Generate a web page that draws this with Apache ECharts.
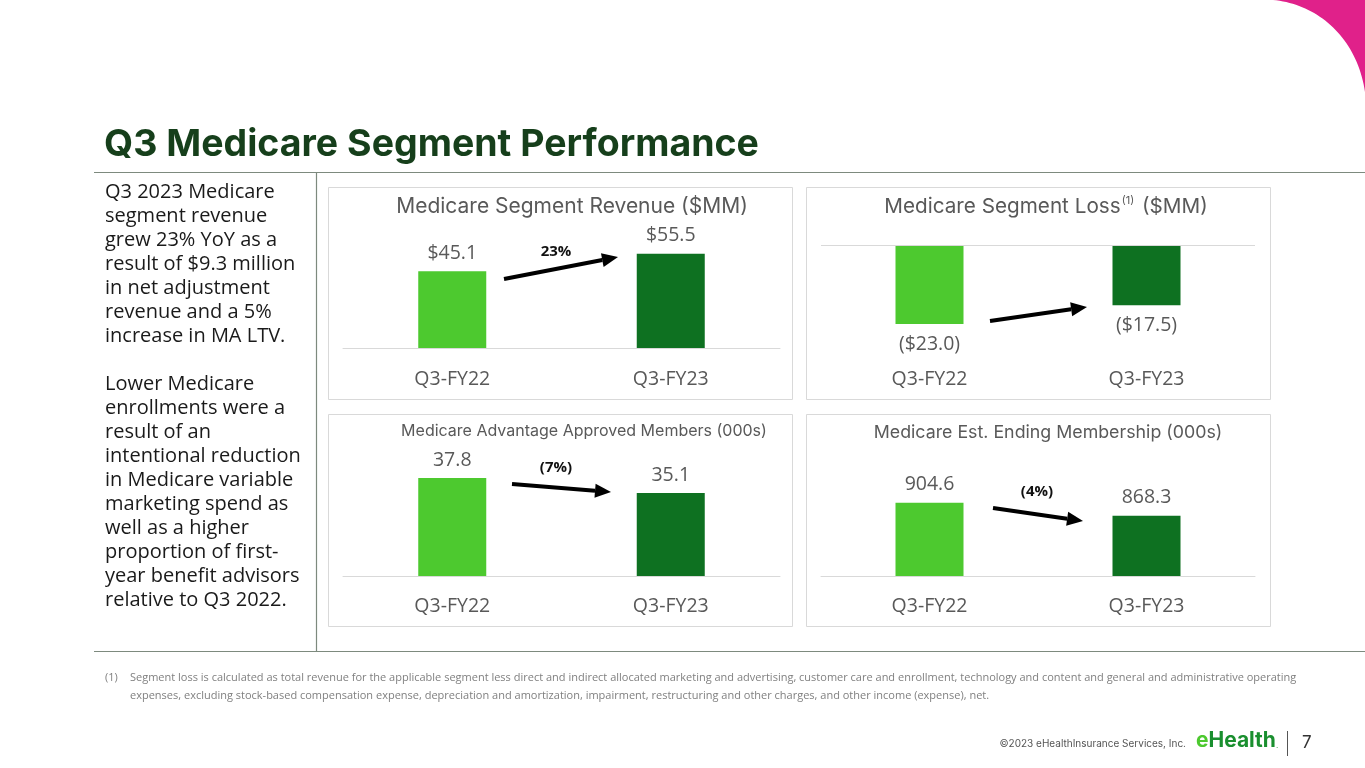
<!DOCTYPE html>
<html>
<head>
<meta charset="utf-8">
<script src="https://cdn.jsdelivr.net/npm/echarts@6/dist/echarts.min.js"></script>
<style>
html,body{margin:0;padding:0;background:#fff;}
#c{width:1365px;height:768px;}
</style>
</head>
<body>
<div id="c"></div>
<script>
// ---- data ----
const categories = ['Q3-FY22', 'Q3-FY23'];
const revenue = [45.1, 55.5];
const segmentLoss = [-23.0, -17.5];
const maApprovedMembers = [37.8, 35.1];
const endingMembership = [904.6, 868.3];
const changeLabels = ['23%', '', '(7%)', '(4%)'];
const panelTitles = [
  'Medicare Segment Revenue ($MM)',
  'Medicare Segment Loss',
  'Medicare Advantage Approved Members (000s)',
  'Medicare Est. Ending Membership (000s)'
];
const bodyLines = [
  'Q3 2023 Medicare', 'segment revenue', 'grew 23% YoY as a', 'result of $9.3 million',
  'in net adjustment', 'revenue and a 5%', 'increase in MA LTV.', '',
  'Lower Medicare', 'enrollments were a', 'result of an', 'intentional reduction',
  'in Medicare variable', 'marketing spend as', 'well as a higher', 'proportion of first-',
  'year benefit advisors', 'relative to Q3 2022.'
];
const footnoteLines = [
  'Segment loss is calculated as total revenue for the applicable segment less direct and indirect allocated marketing and advertising, customer care and enrollment, technology and content and general and administrative operating',
  'expenses, excluding stock-based compensation expense, depreciation and amortization, impairment, restructuring and other charges, and other income (expense), net.'
];

// ---- styling ----
const BAR_COLORS = ['#4dc92f', '#0e7121'];
const TXT_GRAY = '#595959';
const BODY_FONT = '"Open Sans", sans-serif';
const HEAD_FONT = 'Inter, "Noto Sans", sans-serif';

const chart = echarts.init(document.getElementById('c'), null, {renderer: 'canvas'});

const grids = [
  {left: 343, top: 246, width: 437, height: 102},
  {left: 821, top: 245, width: 434, height: 86},
  {left: 343, top: 466, width: 437, height: 110},
  {left: 821, top: 486.5, width: 434, height: 89.5}
];
const yRanges = [[0, 60], [-25, 0], [20, 40], [700, 950]];
const labelMargins = [21, 38, 20, 20];

function xAxisFor(i) {
  return {
    type: 'category', gridIndex: i, data: categories,
    axisTick: {show: false},
    axisLine: {show: i !== 1, lineStyle: {color: '#d9d9d9', width: 1}},
    axisLabel: {color: TXT_GRAY, fontSize: 19.5, fontFamily: BODY_FONT, margin: labelMargins[i]},
    splitLine: {show: false}
  };
}
function yAxisFor(i) {
  return {
    type: 'value', gridIndex: i, min: yRanges[i][0], max: yRanges[i][1],
    show: false, splitLine: {show: false}
  };
}
const fmts = [
  v => '$' + v.toFixed(1),
  v => '($' + Math.abs(v).toFixed(1) + ')',
  v => v.toFixed(1),
  v => v.toFixed(1)
];
const seriesData = [revenue, segmentLoss, maApprovedMembers, endingMembership];

const series = seriesData.map((d, i) => {
  const s = {
    type: 'bar', xAxisIndex: i, yAxisIndex: i,
    data: d.map((v, k) => ({value: v, itemStyle: {color: BAR_COLORS[k]}})),
    barWidth: 68,
    silent: true,
    label: {
      show: true,
      position: i === 1 ? 'bottom' : 'top',
      distance: i === 1 ? 10 : 8,
      color: TXT_GRAY, fontSize: 19.5, fontFamily: BODY_FONT,
      formatter: p => fmts[i](p.value)
    }
  };
  if (i === 1) {
    s.markLine = {
      silent: true, symbol: 'none', label: {show: false},
      lineStyle: {color: '#d9d9d9', type: 'solid', width: 1},
      data: [{yAxis: 0}]
    };
  }
  return s;
});

// graphic helpers
function line(x1, y1, x2, y2, color, w) {
  return {type: 'line', silent: true, shape: {x1, y1, x2, y2}, style: {stroke: color, lineWidth: w}};
}
function arrow(x1, y1, x2, y2) {
  const ang = Math.atan2(y2 - y1, x2 - x1);
  const L = 16, W = 7;
  const bx = x2 - L * Math.cos(ang), by = y2 - L * Math.sin(ang);
  const px = -Math.sin(ang), py = Math.cos(ang);
  return [
    {type: 'line', silent: true, shape: {x1, y1, x2: bx, y2: by}, style: {stroke: '#000', lineWidth: 4}},
    {type: 'polygon', silent: true, shape: {points: [[x2, y2], [bx + px * W, by + py * W], [bx - px * W, by - py * W]]}, style: {fill: '#000'}}
  ];
}
function text(x, y, str, opt) {
  return {type: 'text', silent: true, x, y, style: Object.assign({text: str, textVerticalAlign: 'middle'}, opt)};
}
function bezierPts(p0, p1, p2, p3, n) {
  const pts = [];
  for (let k = 0; k <= n; k++) {
    const t = k / n, u = 1 - t;
    pts.push([
      u * u * u * p0[0] + 3 * u * u * t * p1[0] + 3 * u * t * t * p2[0] + t * t * t * p3[0],
      u * u * u * p0[1] + 3 * u * u * t * p1[1] + 3 * u * t * t * p2[1] + t * t * t * p3[1]
    ]);
  }
  return pts;
}

const graphics = [];
// pink corner
const cornerPts = bezierPts([1273, 0], [1318, 4], [1357, 38], [1365, 92], 40);
cornerPts.push([1365, 0]);
graphics.push({type: 'polygon', silent: true, shape: {points: cornerPts}, style: {fill: '#e0218a'}});
// title
graphics.push(text(104, 145, 'Q3 Medicare Segment Performance', {fontSize: 37.5, fontWeight: 'bold', fontFamily: HEAD_FONT, fill: '#163f1b'}));
// frame lines
graphics.push(line(94, 172.5, 1365, 172.5, '#7d8a7e', 1.2));
graphics.push(line(94, 651.5, 1365, 651.5, '#7d8a7e', 1.2));
graphics.push(line(316.5, 172, 316.5, 652, '#7d8a7e', 1.2));
// panels
[[328, 187], [806, 187], [328, 414], [806, 414]].forEach(([x, y]) => {
  graphics.push({type: 'rect', silent: true, shape: {x: x + 0.5, y: y + 0.5, width: 464, height: 212}, style: {fill: 'none', stroke: '#d9d9d9', lineWidth: 1}});
});
// panel titles
graphics.push(text(572, 207, panelTitles[0], {fontSize: 21, fontFamily: HEAD_FONT, fill: TXT_GRAY, textAlign: 'center'}));
graphics.push({type: 'text', silent: true, x: 1046, y: 207, style: {
  text: '{a|' + panelTitles[1] + '}{s|(1)}{a| ($MM)}',
  textAlign: 'center', textVerticalAlign: 'middle',
  rich: {
    a: {fontSize: 20.7, fontFamily: HEAD_FONT, fill: TXT_GRAY},
    s: {fontSize: 11, fontFamily: HEAD_FONT, fill: TXT_GRAY, padding: [0, 2, 12, 1]}
  }
}});
graphics.push(text(584, 431, panelTitles[2], {fontSize: 16, fontFamily: HEAD_FONT, fill: TXT_GRAY, textAlign: 'center'}));
graphics.push(text(1048, 433, panelTitles[3], {fontSize: 17.8, fontFamily: HEAD_FONT, fill: TXT_GRAY, textAlign: 'center'}));
// arrows and change labels
graphics.push(...arrow(504, 279, 618, 257));
graphics.push(...arrow(990, 321, 1087, 307));
graphics.push(...arrow(512, 484, 611, 492));
graphics.push(...arrow(993, 508, 1083, 521));
const changePos = [[556, 252], null, [556, 468], [1037, 492]];
changeLabels.forEach((t, i) => {
  if (t && changePos[i]) graphics.push(text(changePos[i][0], changePos[i][1], t, {fontSize: 15, fontWeight: 'bold', fontFamily: BODY_FONT, fill: '#111', textAlign: 'center'}));
});
// body text
bodyLines.forEach((t, k) => {
  if (t) graphics.push(text(105, 192 + k * 24, t, {fontSize: 20, fontFamily: BODY_FONT, fill: '#1a1a1a'}));
});
// footnote
graphics.push(text(105, 678, '(1)', {fontSize: 11, fontFamily: BODY_FONT, fill: '#808080'}));
footnoteLines.forEach((t, k) => {
  graphics.push(text(130, 678 + k * 18, t, {fontSize: 11, fontFamily: BODY_FONT, fill: '#808080'}));
});
// bottom right
graphics.push(text(1186, 744, '\u00a92023 eHealthInsurance Services, Inc.', {fontSize: 10, fontFamily: HEAD_FONT, fill: '#555', textAlign: 'right'}));
graphics.push({type: 'text', silent: true, x: 1196, y: 741, style: {
  text: '{e|e}{h|Health}{d|.}', textVerticalAlign: 'middle',
  rich: {
    e: {fontSize: 21, fontWeight: 'bold', fontFamily: HEAD_FONT, fill: '#4dc92f'},
    h: {fontSize: 21, fontWeight: 'bold', fontFamily: HEAD_FONT, fill: '#1a8f2f'},
    d: {fontSize: 8, fontFamily: HEAD_FONT, fill: '#1a8f2f', padding: [10, 0, 0, 0]}
  }
}});
graphics.push(line(1287.5, 731, 1287.5, 756, '#555', 1));
graphics.push(text(1302, 743, '7', {fontSize: 17, fontFamily: HEAD_FONT, fill: '#333'}));

chart.setOption({
  animation: false,
  backgroundColor: '#ffffff',
  grid: grids,
  xAxis: [0, 1, 2, 3].map(xAxisFor),
  yAxis: [0, 1, 2, 3].map(yAxisFor),
  series: series,
  graphic: graphics
});
</script>
</body>
</html>
